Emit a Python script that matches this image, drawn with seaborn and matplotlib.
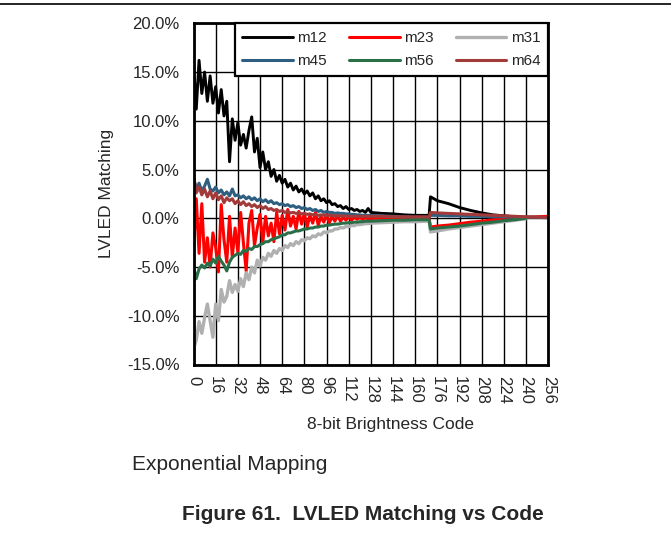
import matplotlib
matplotlib.use('Agg')
import matplotlib.pyplot as plt
from matplotlib.ticker import FuncFormatter, MultipleLocator
from matplotlib.lines import Line2D
import numpy as np
import seaborn as sns

# brightness codes (dense where the curves are noisy)
codes = list(range(0, 130, 2)) + [136, 144, 152, 160, 168, 170, 171, 176, 184, 192,
                                  200, 208, 216, 224, 232, 240, 248, 256]
nan = np.nan

m12 = [15.8, 11.2, 16.2, 12.8, 15.0, 12.0, 14.6, 11.8, 13.5, 10.8,
       13.2, 10.5, 12.0, 5.8, 10.2, 8.0, 9.8, 7.5, 8.6, 7.2,
       9.0, 10.4, 6.8, 8.2, 5.2, 6.8, 5.0, 5.8, 4.3, 5.0,
       3.8, 4.4, 3.6, 4.0, 3.2, 3.6, 2.9, 3.3, 2.7, 3.0,
       2.5, 2.8, 2.3, 2.6, 2.0, 2.3, 1.8, 2.0, 1.6, 1.8,
       1.4, 1.5, 1.2, 1.3, 1.0, 1.2, 0.9, 1.0, 0.8, 0.9,
       0.7, 0.8, 0.6, 1.0, 0.6,
       0.5, 0.45, 0.35, 0.3, 0.3, 0.3, 2.2, 1.8, 1.5, 1.1,
       0.8, 0.55, 0.35, 0.25, 0.15, 0.1, 0.1, 0.1]

m23 = [-3.2, 2.0, -3.6, 1.5, -4.5, -2.0, -5.0, -1.5, -3.0, -5.5,
       1.4, -2.2, -4.5, 0.2, -4.0, -1.0, -3.5, 0.6, -2.5, -5.4,
       -0.5, 0.8, -2.8, -1.0, 0.4, -2.5, 0.2, -1.8, -0.5, -2.4,
       0.6, -1.6, 0.3, -1.2, 0.9, -0.8, 0.2, -1.1, 0.7, -0.6,
       0.5, -0.9, 0.3, -0.5, 0.6, -0.7, 0.2, -0.4, 0.4, -0.5,
       0.2, -0.3, 0.3, -0.3, 0.1, -0.2, 0.2, -0.2, 0.1, -0.1,
       0.1, -0.1, 0.05, -0.05, 0.0,
       0.0, -0.05, 0.0, -0.05, 0.0, 0.0, -0.9, -0.8, -0.7, -0.55,
       -0.4, -0.3, -0.15, -0.05, 0.05, 0.1, 0.15, 0.2]

m31 = [-13.4, -12.5, -10.6, -11.8, -10.2, -8.8, -10.5, -12.2, -8.8, -10.5,
       -7.3, -8.6, -8.0, -6.4, -7.6, -6.8, -7.5, -6.2, -7.0, -5.6,
       -6.3, -5.0, -5.6, -4.3, -4.9, -4.0, -4.3, -3.6, -3.9, -3.3,
       -3.6, -3.1, -3.3, -2.8, -3.0, -2.6, -2.8, -2.4, -2.6, -2.2,
       -2.3, -2.0, -2.1, -1.8, -1.9, -1.6, -1.7, -1.4, -1.5, -1.3,
       -1.3, -1.1, -1.1, -0.95, -1.0, -0.85, -0.85, -0.75, -0.75, -0.65,
       -0.65, -0.6, -0.55, -0.55, -0.5,
       -0.45, -0.4, -0.35, -0.35, -0.3, -0.3, -1.4, -1.3, -1.1, -0.95,
       -0.8, -0.65, -0.5, -0.35, -0.2, -0.05, nan, nan]

m45 = [4.2, 3.0, 3.6, 2.8, 3.3, 4.0, 3.0, 2.8, 3.2, 2.6,
       2.9, 2.4, 2.7, 2.3, 3.0, 2.3, 2.4, 2.1, 2.3, 2.0,
       2.2, 1.9, 2.1, 1.8, 2.0, 1.7, 1.9, 1.6, 1.8, 1.5,
       1.6, 1.4, 1.5, 1.3, 1.4, 1.2, 1.3, 1.1, 1.2, 1.0,
       1.1, 0.9, 1.0, 0.8, 0.9, 0.7, 0.8, 0.6, 0.7, 0.6,
       0.6, 0.5, 0.55, 0.5, 0.5, 0.45, 0.45, 0.4, 0.4, 0.35,
       0.35, 0.3, 0.3, 0.3, 0.3,
       0.25, 0.2, 0.15, 0.1, 0.1, 0.1, 0.3, 0.3, 0.25, 0.25,
       0.2, 0.2, 0.15, 0.15, 0.1, 0.1, 0.1, 0.05]

m56 = [-5.0, -6.2, -5.2, -4.8, -5.1, -4.6, -4.9, -4.2, -4.6, -3.9,
       -4.4, -4.8, -5.4, -4.5, -4.0, -3.8, -3.6, -3.7, -3.3, -3.4,
       -3.1, -3.2, -2.9, -2.9, -2.7, -2.6, -2.4, -2.4, -2.2, -2.1,
       -2.0, -1.9, -1.7, -1.7, -1.5, -1.5, -1.4, -1.3, -1.3, -1.2,
       -1.1, -1.1, -1.0, -1.0, -0.9, -0.9, -0.8, -0.8, -0.7, -0.7,
       -0.65, -0.6, -0.6, -0.55, -0.5, -0.5, -0.45, -0.45, -0.4, -0.4,
       -0.35, -0.35, -0.3, -0.3, -0.3,
       -0.25, -0.2, -0.2, -0.15, -0.15, -0.15, -1.1, -1.0, -0.9, -0.8,
       -0.65, -0.5, -0.4, -0.25, -0.15, 0.0, nan, nan]

m64 = [4.4, 2.6, 3.2, 2.4, 3.0, 2.2, 2.8, 2.0, 2.6, 1.9,
       2.3, 1.6, 2.1, 1.8, 2.0, 1.5, 1.8, 1.4, 1.7, 1.3,
       1.5, 1.2, 1.4, 1.1, 1.3, 1.0, 1.2, 0.9, 1.0, 0.8,
       0.9, 0.7, 0.8, 0.6, 0.7, 0.55, 0.6, 0.5, 0.55, 0.45,
       0.5, 0.4, 0.45, 0.35, 0.4, 0.3, 0.35, 0.3, 0.3, 0.3,
       0.28, 0.26, 0.26, 0.24, 0.24, 0.22, 0.22, 0.2, 0.2, 0.2,
       0.2, 0.2, 0.2, 0.2, 0.2,
       0.2, 0.15, 0.15, 0.15, 0.15, 0.15, 0.6, 0.55, 0.5, 0.45,
       0.4, 0.35, 0.3, 0.25, 0.2, 0.15, 0.1, 0.1]

series = [('m12', m12, '#000000', 2.1),
          ('m23', m23, '#ff0000', 2.2),
          ('m31', m31, '#b0b0b0', 2.4),
          ('m45', m45, '#2e5f80', 2.2),
          ('m56', m56, '#2a6e48', 2.2),
          ('m64', m64, '#a33a3a', 2.2)]

sns.set_style('white')
plt.rcParams['font.family'] = ['Liberation Sans', 'DejaVu Sans']

fig = plt.figure(figsize=(6.71, 5.39), dpi=100)
ax = fig.add_axes([193.5 / 671, 1 - 364.5 / 539, 354.8 / 671, 341.2 / 539])

for name, vals, col, lw in series:
    sns.lineplot(x=codes, y=vals, color=col, lw=lw, label=name, ax=ax)

ax.set_xlim(0, 256)
ax.set_ylim(-15, 20)
ax.xaxis.set_major_locator(MultipleLocator(16))
ax.yaxis.set_major_locator(MultipleLocator(5))
ax.yaxis.set_major_formatter(FuncFormatter(lambda v, p: f'{v:.1f}%'))
ax.grid(True, color='black', lw=1.0)
ax.set_axisbelow(True)
for s in ax.spines.values():
    s.set_color('black')
    s.set_linewidth(2.0)
ax.tick_params(axis='y', length=0, pad=10, labelsize=12)
ax.tick_params(axis='x', length=0, pad=8, labelsize=12, labelrotation=270)

ax.set_xlabel('8-bit Brightness Code', fontsize=12.5)
ax.set_ylabel('LVLED Matching', fontsize=12.5)
ax.xaxis.set_label_coords(0.555, -0.155)
ax.yaxis.set_label_coords(-0.225, 0.5)

# legend fills column-wise, so reorder to get m12 m23 m31 / m45 m56 m64 in rows
handles, labels = ax.get_legend_handles_labels()
order = [0, 3, 1, 4, 2, 5]
leg = ax.legend([handles[i] for i in order], [labels[i] for i in order],
                loc='upper right', bbox_to_anchor=(1.0, 1.0), ncol=3, fontsize=11,
                frameon=True, fancybox=False, borderaxespad=0, handlelength=3.3,
                handletextpad=0.3, columnspacing=1.45, labelspacing=0.6, borderpad=0.5)
leg.get_frame().set_edgecolor('black')
leg.get_frame().set_linewidth(1.6)
leg.get_frame().set_alpha(1)

fig.add_artist(Line2D([0, 1], [1 - 4 / 539, 1 - 4 / 539], color='black', lw=1.2))
fig.text(132 / 671, 1 - 465 / 539, 'Exponential Mapping', fontsize=15, va='center', ha='left')
fig.text(363 / 671, 1 - 514 / 539, 'Figure 61.  LVLED Matching vs Code', fontsize=15,
         fontweight='bold', va='center', ha='center')

fig.savefig('out.png', dpi=100)
